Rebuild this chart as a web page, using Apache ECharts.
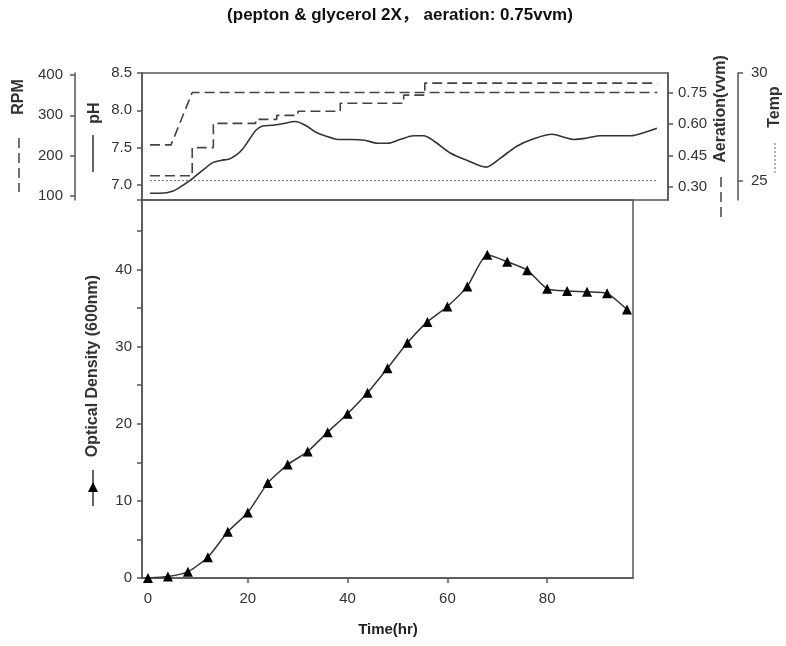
<!DOCTYPE html>
<html><head><meta charset="utf-8">
<script src="https://cdn.jsdelivr.net/npm/echarts@6/dist/echarts.min.js"></script>
<style>html,body{margin:0;padding:0;background:#fff}#c{width:786px;height:646px}</style>
</head><body><div id="c"></div>
<script>
const titleText = '(pepton & glycerol 2X\uFF0C aeration: 0.75vvm)';
const xTitle = 'Time(hr)';
const odTitle = 'Optical Density (600nm)';

// top panel
const phTimes  = [0, 1.9, 4.4, 6.3, 8.1, 10, 11.9, 13.4, 15, 16.3, 17.5, 18.8, 20, 21.3, 23.1, 25, 27.5, 29.4, 31.3, 33.1, 35.6, 38.1, 40.6, 43.1, 45, 47.3, 49.9, 51.8, 53.7, 56.8, 60, 63.6, 66.3, 69.4, 72.6, 76.1, 78.3, 80.2, 82.7, 85.2, 88.4, 90.9, 93.4, 95.9];
const phValues = [6.89, 6.89, 6.92, 7.0, 7.09, 7.2, 7.3, 7.33, 7.35, 7.4, 7.48, 7.61, 7.73, 7.79, 7.8, 7.82, 7.85, 7.8, 7.71, 7.66, 7.61, 7.61, 7.6, 7.56, 7.56, 7.61, 7.66, 7.66, 7.59, 7.43, 7.33, 7.24, 7.36, 7.52, 7.62, 7.68, 7.64, 7.61, 7.63, 7.66, 7.66, 7.66, 7.70, 7.76];
const rpmTimes  = [0, 8, 12, 20, 24, 28, 36, 48, 52, 96];
const rpmValues = [150, 220, 280, 290, 300, 310, 330, 350, 380, 380];
const aerTimes  = [0, 4, 8, 96];
const aerValues = [0.5, 0.5, 0.75, 0.75];
const tempTimes  = [0, 96];
const tempValues = [25, 25];

// bottom panel
const odTimes  = [0, 4, 8, 12, 16, 20, 24, 28, 32, 36, 40, 44, 48, 52, 56, 60, 64, 68, 72, 76, 80, 84, 88, 92, 96];
const odValues = [0, 0.2, 0.8, 2.7, 6.0, 8.5, 12.3, 14.7, 16.4, 18.9, 21.3, 24.0, 27.2, 30.5, 33.2, 35.2, 37.8, 41.9, 41.0, 39.9, 37.5, 37.2, 37.1, 36.9, 34.8];

// tick labels
const phTicks   = [7.0, 7.5, 8.0, 8.5];
const rpmTicks  = [100, 200, 300, 400];
const aerTicks  = [0.30, 0.45, 0.60, 0.75];
const tempTicks = [25, 30];
const timeTicks = [0, 20, 40, 60, 80];

const FONT = '"Liberation Sans", Arial, "Noto Sans CJK SC", sans-serif';
const AX = '#555';
const TXT = '#333';
function pairs(xs, ys) { return xs.map((x, i) => [x, ys[i]]); }

function yAxis(o) {
  return {
    type: 'value', gridIndex: o.grid, position: o.pos, offset: o.offset || 0,
    min: o.min, max: o.max, interval: o.interval,
    splitLine: { show: false },
    axisLine: { show: true, onZero: false, lineStyle: { color: AX, width: 1.5 } },
    axisTick: { show: true, length: 5, customValues: o.ticks, lineStyle: { color: AX, width: 1.5 } },
    axisLabel: { show: true, customValues: o.ticks, color: TXT, fontSize: 15, fontFamily: FONT, margin: o.margin || 10, formatter: o.fmt }
  };
}

const chart = echarts.init(document.getElementById('c'), null, { renderer: 'canvas' });
const option = {
  animation: false,
  backgroundColor: '#fff',
  grid: [
    { left: 142, top: 73, width: 526, height: 127, show: true, borderColor: AX, borderWidth: 1.5, containLabel: false },
    { left: 142, top: 200, width: 491, height: 378, show: true, borderColor: AX, borderWidth: 1.5, containLabel: false }
  ],
  xAxis: [
    { type: 'value', gridIndex: 0, min: -1.5, max: 98, show: false },
    { type: 'value', gridIndex: 1, min: -1.2, max: 97.2, splitLine: { show: false },
      axisLine: { show: true, onZero: false, lineStyle: { color: AX, width: 1.5 } },
      axisTick: { show: true, length: 5, customValues: timeTicks, lineStyle: { color: AX, width: 1.5 } },
      axisLabel: { show: true, customValues: timeTicks, color: TXT, fontSize: 15, fontFamily: FONT, margin: 13 } }
  ],
  yAxis: [
    yAxis({ grid: 0, pos: 'left', min: 6.8, max: 8.5, ticks: phTicks, fmt: v => v.toFixed(1) }),
    yAxis({ grid: 0, pos: 'left', offset: 67, min: 90, max: 405, ticks: rpmTicks, margin: 12, fmt: v => String(v) }),
    yAxis({ grid: 0, pos: 'right', min: 0.237, max: 0.843, ticks: aerTicks, fmt: v => v.toFixed(2) }),
    yAxis({ grid: 0, pos: 'right', offset: 70, min: 24.1, max: 30, ticks: tempTicks, margin: 13, fmt: v => String(v) }),
    (function () {
      const a = yAxis({ grid: 1, pos: 'left', min: 0, max: 49, interval: 5, fmt: v => (v % 10 === 0 ? String(v) : '') });
      delete a.axisTick.customValues; delete a.axisLabel.customValues;
      return a;
    })()
  ],
  series: [
    { name: 'pH', type: 'line', xAxisIndex: 0, yAxisIndex: 0, data: pairs(phTimes, phValues),
      smooth: 0.3, showSymbol: false, lineStyle: { color: '#333', width: 1.6 } },
    { name: 'RPM', type: 'line', xAxisIndex: 0, yAxisIndex: 1, data: pairs(rpmTimes, rpmValues),
      step: 'end', showSymbol: false, lineStyle: { color: '#444', width: 1.6, type: [10, 5] } },
    { name: 'Aeration', type: 'line', xAxisIndex: 0, yAxisIndex: 2, data: pairs(aerTimes, aerValues),
      showSymbol: false, lineStyle: { color: '#444', width: 1.6, type: [10, 5] } },
    { name: 'Temp', type: 'line', xAxisIndex: 0, yAxisIndex: 3, data: pairs(tempTimes, tempValues),
      showSymbol: false, lineStyle: { color: '#666', width: 1, type: [2, 2] } },
    { name: 'OD', type: 'line', xAxisIndex: 1, yAxisIndex: 4, data: pairs(odTimes, odValues),
      smooth: 0.2, symbol: 'triangle', symbolSize: 10, showAllSymbol: true,
      itemStyle: { color: '#000' }, lineStyle: { color: '#333', width: 1.5 } }
  ],
  graphic: [
    { type: 'text', x: 400, y: 15, style: { text: titleText, font: 'bold 17px ' + FONT, fill: '#111', align: 'center', verticalAlign: 'middle' } },
    { type: 'text', x: 19, y: 97, rotation: Math.PI / 2, style: { text: 'RPM', font: 'bold 16px ' + FONT, fill: TXT, align: 'center', verticalAlign: 'middle' } },
    { type: 'line', shape: { x1: 19, y1: 138, x2: 19, y2: 192 }, style: { stroke: '#444', lineWidth: 1.5, lineDash: [10, 5] } },
    { type: 'text', x: 95, y: 113, rotation: Math.PI / 2, style: { text: 'pH', font: 'bold 16px ' + FONT, fill: TXT, align: 'center', verticalAlign: 'middle' } },
    { type: 'line', shape: { x1: 93, y1: 135, x2: 93, y2: 172 }, style: { stroke: '#333', lineWidth: 1.5 } },
    { type: 'text', x: 721, y: 109, rotation: Math.PI / 2, style: { text: 'Aeration(vvm)', font: 'bold 16px ' + FONT, fill: TXT, align: 'center', verticalAlign: 'middle' } },
    { type: 'line', shape: { x1: 721, y1: 177, x2: 721, y2: 219 }, style: { stroke: '#444', lineWidth: 1.5, lineDash: [10, 5] } },
    { type: 'text', x: 775, y: 107, rotation: Math.PI / 2, style: { text: 'Temp', font: 'bold 16px ' + FONT, fill: TXT, align: 'center', verticalAlign: 'middle' } },
    { type: 'line', shape: { x1: 775, y1: 143, x2: 775, y2: 174 }, style: { stroke: '#666', lineWidth: 1, lineDash: [2, 2] } },
    { type: 'text', x: 93, y: 366, rotation: Math.PI / 2, style: { text: odTitle, font: 'bold 16px ' + FONT, fill: TXT, align: 'center', verticalAlign: 'middle' } },
    { type: 'line', shape: { x1: 93, y1: 470, x2: 93, y2: 506 }, style: { stroke: '#333', lineWidth: 1.5 } },
    { type: 'polygon', shape: { points: [[93, 482], [88, 492], [98, 492]] }, style: { fill: '#000' } },
    { type: 'text', x: 388, y: 630, style: { text: xTitle, font: 'bold 15px ' + FONT, fill: '#222', align: 'center', verticalAlign: 'middle' } }
  ]
};
chart.setOption(option);
</script>
</body></html>
